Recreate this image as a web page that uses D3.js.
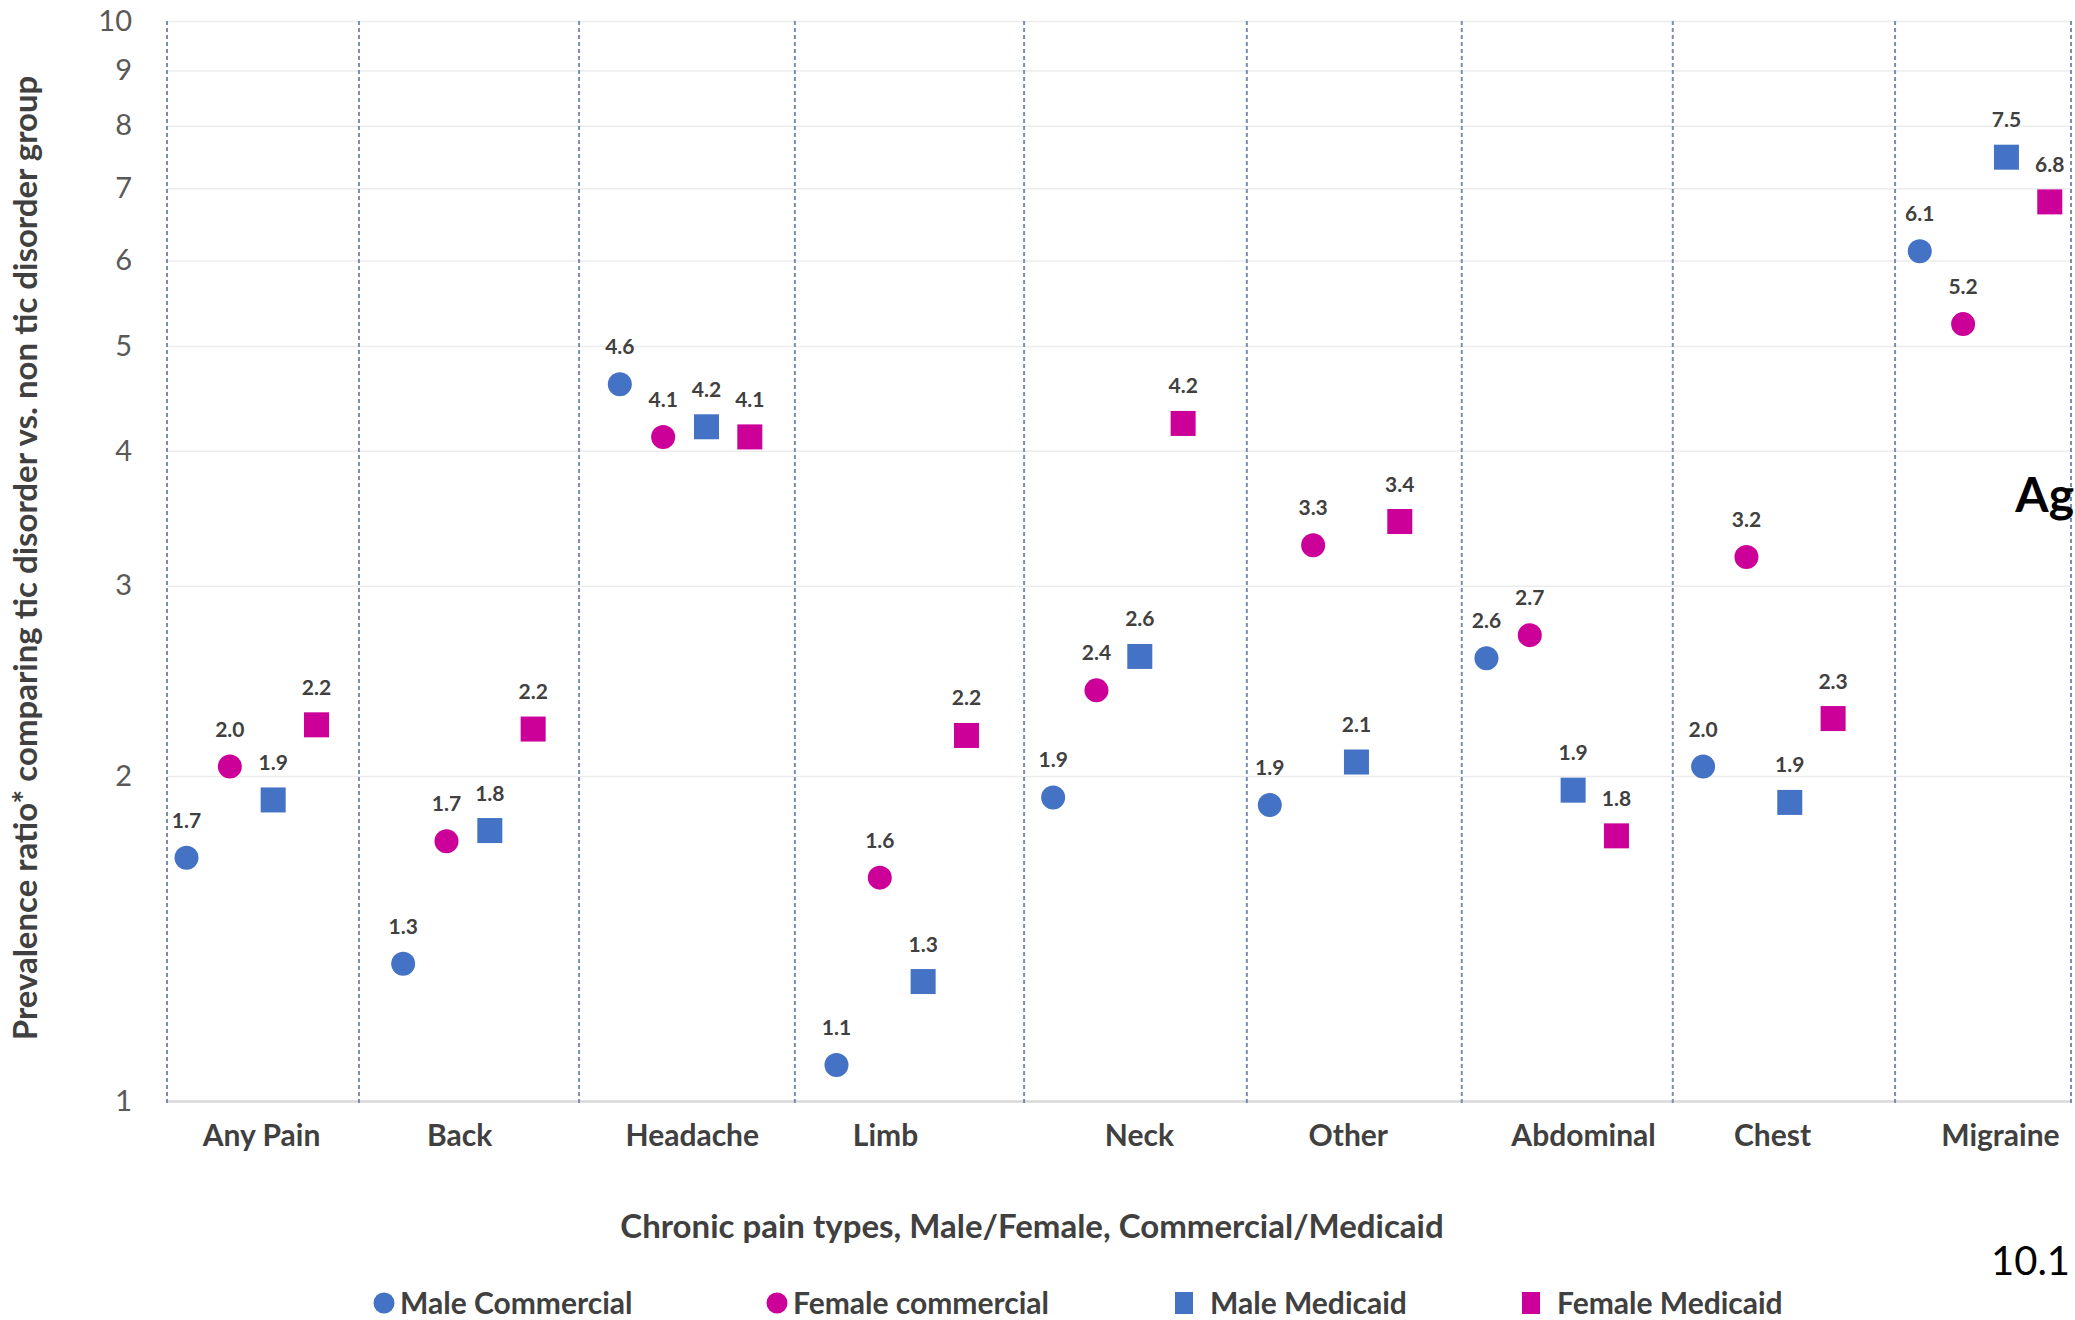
<!DOCTYPE html>
<html>
<head>
<meta charset="utf-8">
<script src="https://cdn.jsdelivr.net/npm/d3@7"></script>
<style>
    html, body { margin: 0; padding: 0; background: #fff; }
    svg text { font-family: Lato, "Open Sans", sans-serif; }
</style>
</head>
<body>
<div id="chart"></div>
<script>
// Chronic pain prevalence ratios, tic disorder vs non tic disorder
var categories = ['Any Pain', 'Back', 'Headache', 'Limb', 'Neck', 'Other', 'Abdominal', 'Chest', 'Migraine'];
var seriesNames = ['Male Commercial', 'Female commercial', 'Male Medicaid', 'Female Medicaid'];
var maleCommercial   = [1.68, 1.34, 4.61, 1.08, 1.91, 1.88, 2.57, 2.04, 6.12];
var femaleCommercial = [2.04, 1.74, 4.12, 1.61, 2.40, 3.27, 2.70, 3.19, 5.24];
var maleMedicaid     = [1.90, 1.78, 4.21, 1.29, 2.58, 2.06, 1.94, 1.89, 7.48];
var femaleMedicaid   = [2.23, 2.21, 4.12, 2.18, 4.24, 3.44, 1.76, 2.26, 6.80];
var yTicks = [1, 2, 3, 4, 5, 6, 7, 8, 9, 10];
// x positions (in point slots) of the dashed dividers and the category labels
var groupBreaks = [-0.45, 3.98, 9.06, 14.04, 19.33, 24.47, 29.43, 34.3, 39.43, 43.49];
var labelAt = [1.72, 6.29, 11.66, 16.12, 21.98, 26.8, 32.23, 36.59, 41.85];

var W = 2075, H = 1320;
var margin = {top: 21, right: 4, bottom: 219, left: 167},
    width = W - margin.left - margin.right,
    height = H - margin.top - margin.bottom;

var blue = '#4472c4', pink = '#cc0099';
var series = [
    {name: seriesNames[0], values: maleCommercial, color: blue, shape: 'circle'},
    {name: seriesNames[1], values: femaleCommercial, color: pink, shape: 'circle'},
    {name: seriesNames[2], values: maleMedicaid, color: blue, shape: 'square'},
    {name: seriesNames[3], values: femaleMedicaid, color: pink, shape: 'square'}
];

var svg = d3.select('#chart').append('svg')
    .attr('width', W)
    .attr('height', H);

var g = svg.append('g')
    .attr('transform', 'translate(' + margin.left + ',' + margin.top + ')');

var x = d3.scaleLinear().domain([groupBreaks[0], groupBreaks[groupBreaks.length - 1]]).range([0, width]);
var y = d3.scaleLog().domain([1, 10]).range([height, 0]);

// horizontal gridlines
g.append('g')
    .attr('class', 'grid')
    .call(d3.axisLeft(y).tickValues(yTicks).tickSize(-width).tickFormat(''))
    .call(function (sel) {
        sel.select('.domain').remove();
        sel.selectAll('line')
            .attr('stroke', function (d) { return d === 1 ? '#d9d9d9' : '#ececec'; })
            .attr('stroke-width', function (d) { return d === 1 ? 2.5 : 1.5; });
    });

// y tick labels
g.append('g')
    .call(d3.axisLeft(y).tickValues(yTicks).tickSize(0).tickPadding(35).tickFormat(d3.format('d')))
    .call(function (sel) {
        sel.select('.domain').remove();
        sel.selectAll('text')
            .attr('fill', '#595959')
            .style('font-size', '29px');
    });

// dashed category dividers
g.selectAll('.divider')
    .data(groupBreaks)
    .enter()
    .append('line')
    .attr('class', 'divider')
    .attr('x1', function (d) { return x(d); })
    .attr('x2', function (d) { return x(d); })
    .attr('y1', 0)
    .attr('y2', height + 3)
    .attr('stroke', '#7b8db0')
    .attr('stroke-width', 2)
    .attr('stroke-dasharray', '4,3');

// category labels
g.append('g')
    .attr('transform', 'translate(0,' + height + ')')
    .call(d3.axisBottom(x).tickValues(labelAt).tickSize(0).tickPadding(24)
        .tickFormat(function (d, i) { return categories[i]; }))
    .call(function (sel) {
        sel.select('.domain').remove();
        sel.selectAll('text')
            .attr('fill', '#404040')
            .style('font-size', '30px')
            .style('font-weight', 'bold');
    });

// points
var points = [];
series.forEach(function (s, si) {
    s.values.forEach(function (v, ci) {
        points.push({slot: ci * 5 + si, value: v, color: s.color, shape: s.shape});
    });
});

var marks = g.selectAll('.mark')
    .data(points)
    .enter()
    .append('g')
    .attr('class', 'mark')
    .attr('transform', function (d) { return 'translate(' + x(d.slot) + ',' + y(d.value) + ')'; });

marks.filter(function (d) { return d.shape === 'circle'; })
    .append('circle')
    .attr('r', 12)
    .attr('fill', function (d) { return d.color; });

marks.filter(function (d) { return d.shape === 'square'; })
    .append('rect')
    .attr('x', -12.5)
    .attr('y', -12.5)
    .attr('width', 25)
    .attr('height', 25)
    .attr('fill', function (d) { return d.color; });

marks.append('text')
    .attr('text-anchor', 'middle')
    .attr('y', -30)
    .attr('fill', '#404040')
    .style('font-size', '21px')
    .style('font-weight', 'bold')
    .text(function (d) { return d3.format('.1f')(d.value); });

// axis titles
svg.append('text')
    .attr('transform', 'translate(37,' + 558 + ') rotate(-90)')
    .attr('text-anchor', 'middle')
    .attr('fill', '#404040')
    .style('font-size', '33px')
    .style('font-weight', 'bold')
    .text('Prevalence ratio* comparing tic disorder vs. non tic disorder group');

svg.append('text')
    .attr('x', 1032)
    .attr('y', 1238)
    .attr('text-anchor', 'middle')
    .attr('fill', '#404040')
    .style('font-size', '33px')
    .style('font-weight', 'bold')
    .text('Chronic pain types, Male/Female, Commercial/Medicaid');

// legend
var legendX = [384, 777, 1184, 1531];
var legend = svg.selectAll('.legend')
    .data(series)
    .enter()
    .append('g')
    .attr('class', 'legend')
    .attr('transform', function (d, i) { return 'translate(' + legendX[i] + ',1303)'; });

legend.filter(function (d) { return d.shape === 'circle'; })
    .append('circle')
    .attr('r', 10.5)
    .attr('fill', function (d) { return d.color; });

legend.filter(function (d) { return d.shape === 'square'; })
    .append('rect')
    .attr('x', -9)
    .attr('y', -11)
    .attr('width', 18)
    .attr('height', 22)
    .attr('fill', function (d) { return d.color; });

legend.append('text')
    .attr('x', function (d) { return d.shape === 'circle' ? 16 : 26; })
    .attr('y', 11)
    .attr('fill', '#404040')
    .style('font-size', '30px')
    .style('font-weight', 'bold')
    .text(function (d) { return d.name; });

// slide text at the right edge
svg.append('text')
    .attr('x', 2074)
    .attr('y', 512)
    .attr('text-anchor', 'end')
    .attr('fill', '#000')
    .style('font-size', '48px')
    .style('font-weight', 'bold')
    .text('Ag');

svg.append('text')
    .attr('x', 1991)
    .attr('y', 1275)
    .attr('fill', '#000')
    .style('font-size', '40px')
    .text('10.1');
</script>
</body>
</html>
